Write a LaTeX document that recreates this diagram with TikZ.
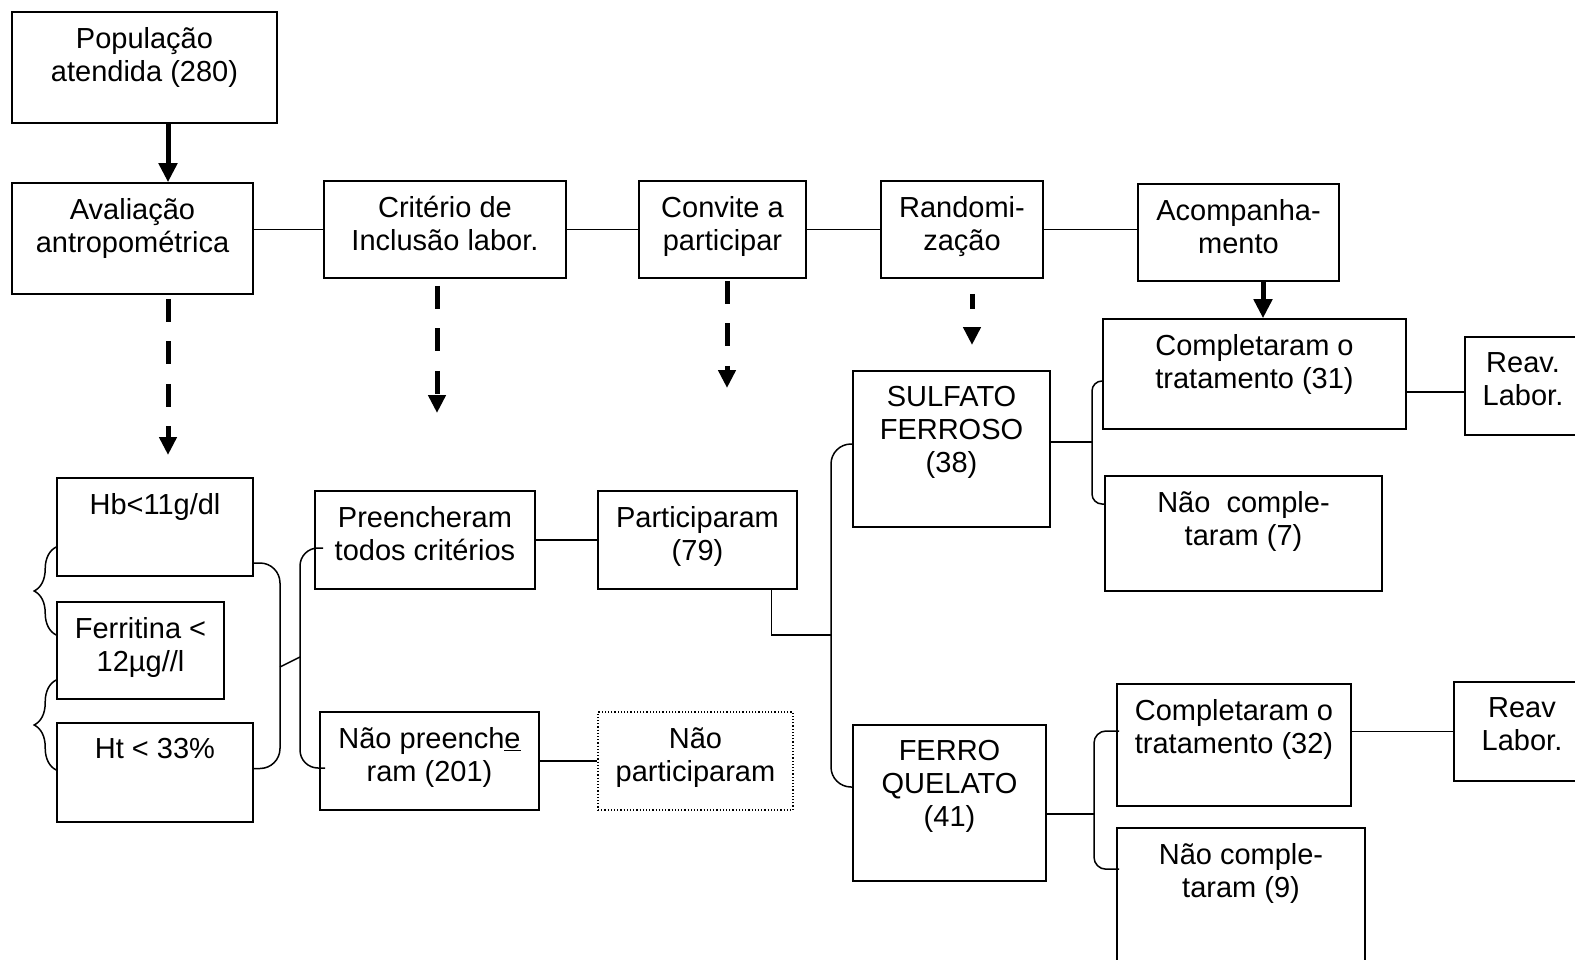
\documentclass[tikz,border=0pt]{standalone}
\usepackage{fontspec}
\setmainfont{Liberation Sans}
\usetikzlibrary{arrows.meta,decorations.pathreplacing}

\tikzset{
  box/.style={draw, line width=1.6pt, inner sep=0pt},
  dotbox/.style={draw, line width=1.1pt, dash pattern=on 1.2pt off 2pt, inner sep=0pt},
  txt/.style={align=center, inner sep=0pt, anchor=north, font=\fontsize{29}{33}\selectfont},
  line/.style={line width=1.5pt},
  bigarrow/.style={line width=5pt, -{Triangle[width=18pt,length=19pt]}},
  dasharrow/.style={line width=5pt, dash pattern=on 23pt off 19.5pt, -{Triangle[width=17pt,length=18pt]}},
  curly/.style={line width=1.5pt, decorate, decoration={brace, amplitude=22pt}},
}

\begin{document}
\begin{tikzpicture}[x=1pt, y=-1pt]
        \useasboundingbox (0,0) rectangle (1575,960);
        % Nodes
        \node[box, minimum width=265pt, minimum height=111pt] (pop) at (144.5,67.5) {};
        \node[txt] (pop-t) at ([yshift=-16pt]pop.north) {População\\atendida (280)};
        \node[box, minimum width=241pt, minimum height=111pt] (aval) at (132.5,238.5) {};
        \node[txt] (aval-t) at ([yshift=-16pt]aval.north) {Avaliação\\antropométrica};
        \node[box, minimum width=242pt, minimum height=97pt] (crit) at (445,229.5) {};
        \node[txt] (crit-t) at ([yshift=-16pt]crit.north) {Critério de\\Inclusão labor.};
        \node[box, minimum width=167pt, minimum height=97pt] (conv) at (722.5,229.5) {};
        \node[txt] (conv-t) at ([yshift=-16pt]conv.north) {Convite a\\participar};
        \node[box, minimum width=162pt, minimum height=97pt] (rand) at (962,229.5) {};
        \node[txt] (rand-t) at ([yshift=-16pt]rand.north) {Randomi-\\zação};
        \node[box, minimum width=201pt, minimum height=97pt] (acomp) at (1238.5,232.5) {};
        \node[txt] (acomp-t) at ([yshift=-16pt]acomp.north) {Acompanha-\\mento};
        \node[box, minimum width=303pt, minimum height=110pt] (comp31) at (1254.5,374) {};
        \node[txt] (comp31-t) at ([yshift=-16pt]comp31.north) {Completaram o\\tratamento (31)};
        \node[box, minimum width=125pt, minimum height=98pt] (reav1) at (1527.5,386) {};
        \node[txt] (reav1-t) at ([xshift=-4.5pt,yshift=-16pt]reav1.north) {Reav.\\Labor.};
        \node[box, minimum width=197pt, minimum height=156pt] (sulf) at (951.5,449) {};
        \node[txt] (sulf-t) at ([yshift=-16pt]sulf.north) {SULFATO\\FERROSO\\(38)};
        \node[box, minimum width=277pt, minimum height=115pt] (nc7) at (1243.5,533.5) {};
        \node[txt] (nc7-t) at ([yshift=-16pt]nc7.north) {Não~~comple-\\taram (7)};
        \node[box, minimum width=196pt, minimum height=98pt] (hb) at (155,527) {};
        \node[txt] (hb-t) at ([yshift=-16pt]hb.north) {Hb<11g/dl};
        \node[box, minimum width=167pt, minimum height=97pt] (ferr) at (140.5,650.5) {};
        \node[txt] (ferr-t) at ([yshift=-16pt]ferr.north) {Ferritina <\\12µg//l};
        \node[box, minimum width=196pt, minimum height=99pt] (ht) at (155,772.5) {};
        \node[txt] (ht-t) at ([yshift=-16pt]ht.north) {Ht < 33\%};
        \node[box, minimum width=220pt, minimum height=98pt] (preench) at (425,540) {};
        \node[txt] (preench-t) at ([yshift=-16pt]preench.north) {Preencheram\\todos critérios};
        \node[box, minimum width=199pt, minimum height=98pt] (partic) at (697.5,540) {};
        \node[txt] (partic-t) at ([yshift=-16pt]partic.north) {Participaram\\(79)};
        \node[box, minimum width=219pt, minimum height=98pt] (naopre) at (429.5,761) {};
        \node[txt] (naopre-t) at ([yshift=-16pt]naopre.north) {Não preench\underline{e}\\ram (201)};
        \node[dotbox, minimum width=195pt, minimum height=98pt] (naopart) at (695.5,761) {};
        \node[txt] (naopart-t) at ([yshift=-16pt]naopart.north) {Não\\participaram};
        \node[box, minimum width=193pt, minimum height=156pt] (ferro) at (949.5,803) {};
        \node[txt] (ferro-t) at ([yshift=-16pt]ferro.north) {FERRO\\QUELATO\\(41)};
        \node[box, minimum width=234pt, minimum height=122pt] (comp32) at (1234,745) {};
        \node[txt] (comp32-t) at ([yshift=-16pt]comp32.north) {Completaram o\\tratamento (32)};
        \node[box, minimum width=136pt, minimum height=99pt] (reav2) at (1522,731.5) {};
        \node[txt] (reav2-t) at ([yshift=-16pt]reav2.north) {Reav\\Labor.};
        \node[box, minimum width=248pt, minimum height=162pt] (nc9) at (1241,909) {};
        \node[txt] (nc9-t) at ([yshift=-16pt]nc9.north) {Não comple-\\taram (9)};
        % Free ends and joints
        \coordinate (aval-d) at (168,455);
        \coordinate (crit-d) at (437,413);
        \coordinate (conv-d) at (727,388);
        \coordinate (rand-d) at (972,345);
        \coordinate (anem-bar) at (280,667);
        \coordinate (crit-bar) at (300,657);
        \coordinate (trt-bar) at (831,635);
        \coordinate (sulf-bar) at (1092,442);
        \coordinate (ferro-bar) at (1094,814);
        % Edges
        \draw[bigarrow] ([xshift=23.5pt]pop.south) -- ([xshift=35.5pt]aval.north);
        \draw[bigarrow] ([xshift=24.5pt]acomp.south) -- ([xshift=8.5pt]comp31.north);
        \draw[line] (aval.east |- crit.west) -- (crit.west);
        \draw[line] (crit.east) -- (conv.west);
        \draw[line] (conv.east) -- (rand.west);
        \draw[line] (rand.east) -- (rand.east -| acomp.west);
        \draw[dasharrow] ([xshift=35.5pt,yshift=-4pt]aval.south) -- (aval-d);
        \draw[dasharrow] ([xshift=-8pt,yshift=-7pt]crit.south) -- (crit-d);
        \draw[dasharrow] ([xshift=4.5pt,yshift=-2pt]conv.south) -- (conv-d);
        \draw[dasharrow, dash pattern=on 15pt off 19pt] ([xshift=10pt,yshift=-15pt]rand.south) -- (rand-d);
        \draw[curly] ([yshift=15.5pt]ferr.west) -- ([yshift=-20pt]hb.west);
        \draw[curly] ([yshift=2.5pt]ht.west) -- ([yshift=-29.5pt]ferr.west);
        \draw[line, rounded corners=20pt] ([yshift=-36pt]hb.east) -| (anem-bar) |- ([yshift=4pt]ht.east);
        \draw[line, rounded corners=18pt] ([xshift=9pt,yshift=-8pt]preench.west) -| (crit-bar) |- ([xshift=6pt,yshift=-7pt]naopre.west);
        \draw[line] (anem-bar) -- (crit-bar);
        \draw[line] (preench.east) -- (partic.west);
        \draw[line] (naopre.east) -- (naopart.west);
        \draw[line] ([xshift=74pt]partic.south) |- (trt-bar);
        \draw[line, rounded corners=20pt] ([yshift=5pt]sulf.west) -| (trt-bar) |- ([yshift=16pt]ferro.west);
        \draw[line] ([yshift=7pt]sulf.east) -- (sulf-bar);
        \draw[line, rounded corners=10pt] ([yshift=-7pt]comp31.west) -| (sulf-bar) |- ([yshift=29.5pt]nc7.west);
        \draw[line] ([yshift=-18pt]comp31.east) -- ([yshift=-6pt]reav1.west);
        \draw[line] ([yshift=-11pt]ferro.east) -- (ferro-bar);
        \draw[line, rounded corners=12pt] ([xshift=3pt,yshift=14pt]comp32.west) -| (ferro-bar) |- ([xshift=3pt,yshift=-42pt]nc9.north west);
        \draw[line] (comp32.east |- reav2.west) -- (reav2.west);
\end{tikzpicture}
\end{document}
